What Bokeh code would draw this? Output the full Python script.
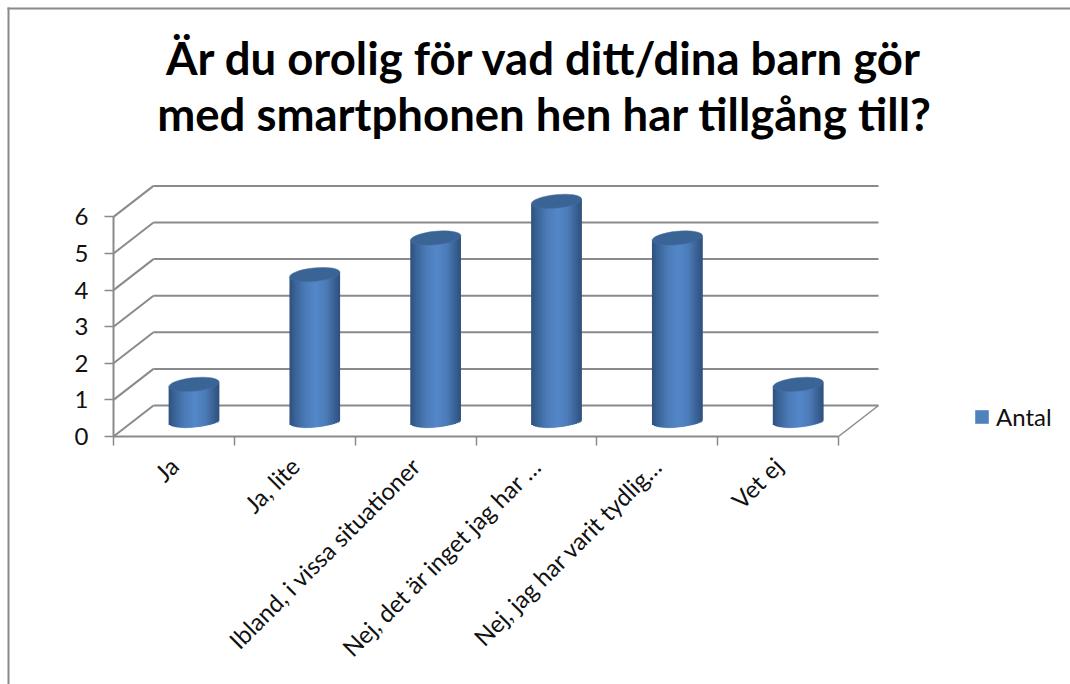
import math
from bokeh.plotting import figure
from bokeh.models import (Range1d, FixedTicker, Label, Legend, LegendItem, BoxAnnotation)
from bokeh.embed import file_html
from bokeh.resources import INLINE

# --- data -------------------------------------------------------------
title_lines = ["Är du orolig för vad ditt/dina barn gör",
               "med smartphonen hen har tillgång till?"]
categories = ["Ja", "Ja, lite", "Ibland, i vissa situationer",
              "Nej, det är inget jag har …", "Nej, jag har varit tydlig…", "Vet ej"]
values = [1, 4, 5, 6, 5, 1]
y_ticks = [0, 1, 2, 3, 4, 5, 6]
series_name = "Antal"

# --- scale: pixels per data unit on the front plane --------------------
W, H = 1070, 684
PX_X = 725 / 6
PX_Y = 36.6
ORIGIN_X, ORIGIN_Y = 113, 436   # page pixels of the (0, 0) corner
DEPTH_X = 40 / PX_X
DEPTH_Y = 31 / PX_Y
n = len(categories)
GRID = "#8a8a8a"

def dx(px):
    return (px - ORIGIN_X) / PX_X

def dy(px):
    return (ORIGIN_Y - px) / PX_Y

p = figure(width=W, height=H, output_backend="svg", toolbar_location=None,
           x_range=Range1d(dx(0), dx(W)), y_range=Range1d(dy(H), dy(0)),
           min_border=0, outline_line_color=None, background_fill_color="white")
p.grid.visible = False

# page border (top and left only)
p.add_layout(BoxAnnotation(left=dx(7), right=dx(W), top=dy(7), bottom=dy(9),
                           fill_color=GRID, fill_alpha=1, line_color=None))
p.add_layout(BoxAnnotation(left=dx(7), right=dx(9), top=dy(7), bottom=dy(H),
                           fill_color=GRID, fill_alpha=1, line_color=None))

# --- walls ------------------------------------------------------------
p.segment(x0=[DEPTH_X] * len(y_ticks), x1=[n + DEPTH_X] * len(y_ticks),
          y0=[v + DEPTH_Y for v in y_ticks], y1=[v + DEPTH_Y for v in y_ticks],
          line_color=GRID, line_width=2)
p.segment(x0=[0] * len(y_ticks), x1=[DEPTH_X] * len(y_ticks),
          y0=y_ticks, y1=[v + DEPTH_Y for v in y_ticks],
          line_color=GRID, line_width=2)
p.segment(x0=[n], x1=[n + DEPTH_X], y0=[0], y1=[DEPTH_Y], line_color=GRID, line_width=1.5)

# --- cylinders ---------------------------------------------------------
stops = [(0.0, (46, 80, 124)), (0.12, (58, 100, 152)), (0.32, (76, 124, 184)),
         (0.52, (84, 135, 200)), (0.72, (76, 124, 184)), (0.9, (56, 96, 146)), (1.0, (46, 80, 124))]

def shade(t):
    for (a, ca), (b, cb) in zip(stops, stops[1:]):
        if t <= b:
            f = (t - a) / (b - a)
            return "#%02x%02x%02x" % tuple(round(x + (y - x) * f) for x, y in zip(ca, cb))
    return "#2e507c"

A, B, TILT = 25.3, 6.0, 0.1          # ellipse half-axes (px) and tilt (rad)
STRIPS = 26
cx = [i + 0.5 + DEPTH_X / 2 for i in range(n)]
base_y = (ORIGIN_Y - 420.5) / PX_Y
tops = [base_y + v for v in values]

p.ellipse(x=cx, y=[base_y] * n, width=2 * A, height=2 * B + 1.5, angle=TILT,
          width_units="screen", height_units="screen", fill_color="#a9c6ec", line_color=None)

L, R, T, Bo, C = [], [], [], [], []
for x0, top in zip(cx, tops):
    for k in range(STRIPS):
        u0 = -1 + 2 * k / STRIPS
        u1 = -1 + 2 * (k + 1) / STRIPS
        um = (u0 + u1) / 2
        off = math.tan(TILT) * um * A
        L.append(x0 + u0 * A / PX_X)
        R.append(x0 + min(1, u1 + 1.5 * 2 / STRIPS) * A / PX_X)
        Bo.append(base_y + (off - B * math.sqrt(max(0, 1 - um * um))) / PX_Y)
        T.append(top + off / PX_Y)
        C.append(shade((um + 1) / 2))
# paint each cylinder's strips left to right, each overlapping the next
p.quad(left=L, right=R, top=T, bottom=Bo, fill_color=C, line_color=None)

p.ellipse(x=cx, y=tops, width=2 * A, height=2 * B + 1.5, angle=TILT,
          width_units="screen", height_units="screen", fill_color="#3b6496", line_color="#44709f",
          line_width=0.5)

# --- axes --------------------------------------------------------------
ax = p.xaxis[0]
ax.fixed_location = 0
centres = [i + 0.5 for i in range(n)]
ax.ticker = FixedTicker(ticks=centres, minor_ticks=list(range(n + 1)))
ax.bounds = (0, n)
ax.major_label_overrides = {c: t for c, t in zip(centres, categories)}
ax.major_label_orientation = math.pi / 4
ax.major_label_text_font = "Lato"
ax.major_label_text_font_size = "24px"
ax.major_label_text_color = "#111111"
ax.major_label_standoff = 16
ax.major_tick_in = ax.major_tick_out = 0
ax.minor_tick_in = 0
ax.minor_tick_out = 9
ax.minor_tick_line_color = GRID
ax.minor_tick_line_width = 1.5
ax.axis_line_color = GRID
ax.axis_line_width = 2

ay = p.yaxis[0]
ay.fixed_location = 0
ay.ticker = FixedTicker(ticks=y_ticks)
ay.bounds = (0, 6)
ay.major_label_text_font = "Lato"
ay.major_label_text_font_size = "24px"
ay.major_label_text_color = "#111111"
ay.major_label_standoff = 16
ay.major_tick_in = 0
ay.major_tick_out = 9
ay.major_tick_line_color = GRID
ay.major_tick_line_width = 1.5
ay.minor_tick_line_color = None
ay.axis_line_color = GRID
ay.axis_line_width = 2

# --- title --------------------------------------------------------------
for line, py in zip(title_lines, (57, 113)):
    p.add_layout(Label(x=dx(544), y=dy(py), text=line,
                       text_align="center", text_baseline="alphabetic",
                       text_font="Lato", text_font_style="bold",
                       text_font_size="45.5px", text_color="#000000"))

# --- legend -------------------------------------------------------------
nan = float("nan")
swatch = p.quad(left=[nan], right=[nan], top=[nan], bottom=[nan], fill_color="#4f81bd", line_color=None)
legend = Legend(items=[LegendItem(label=series_name, renderers=[swatch])],
                location=(973, H - 431), padding=4, margin=0, spacing=0,
                glyph_width=17, glyph_height=17, label_standoff=6,
                label_text_font="Lato", label_text_font_size="24px", label_text_color="#111111",
                border_line_color=None, background_fill_alpha=0)
p.add_layout(legend)

open("out.html", "w").write(file_html(p, INLINE))
